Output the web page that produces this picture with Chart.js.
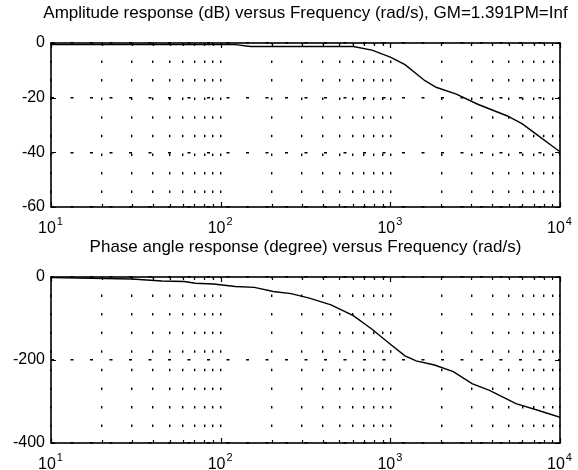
<!DOCTYPE html>
<html>
<head>
<meta charset="utf-8">
<script src="https://cdn.jsdelivr.net/npm/chart.js@4.4.0/dist/chart.umd.min.js"></script>
<style>
body { margin: 0; background: #fff; }
.plot { position: absolute; left: 0; width: 578px; height: 235px; }
</style>
</head>
<body>
<div class="plot" style="top:0"><canvas id="magCanvas" width="578" height="235"></canvas></div>
<div class="plot" style="top:235px"><canvas id="phaseCanvas" width="578" height="235"></canvas></div>
<script>
// amplitude response (dB)
var magFreq = [10, 122, 150, 605, 780, 1000, 1220, 1600, 1860, 2450, 3300, 4900, 6000, 7400, 10000];
var magDb = [-0.6, -0.6, -1.3, -1.3, -2.6, -5.2, -7.9, -13.8, -16.2, -18.7, -22.5, -26.7, -29.6, -33.8, -39.8];

// phase response (degree)
var phaseFreq = [10, 30, 45, 61, 71, 91, 122, 158, 204, 260, 333, 447, 605, 780, 1000, 1220, 1420, 1820, 2350, 3030, 3840, 5500, 7400, 10000];
var phaseDeg = [-1.6, -4.8, -9.5, -11, -15, -16.7, -23, -25, -35, -40, -51, -67, -93, -126, -162, -190, -202, -212, -228, -257, -273, -305, -321, -338];

var freqTicks = [10, 20, 30, 40, 50, 60, 70, 80, 90,
                 100, 200, 300, 400, 500, 600, 700, 800, 900,
                 1000, 2000, 3000, 4000, 5000, 6000, 7000, 8000, 9000, 10000];
var freqMajor = [10, 100, 1000, 10000];
var freqExp = ['1', '2', '3', '4'];
var magTicks = [0, -20, -40, -60];
var phaseTicks = [0, -200, -400];

var FONT = '"Liberation Sans", Arial, sans-serif';

var framePlugin = {
  id: 'frame',
  afterDraw: function(chart) {
    var ctx = chart.ctx;
    var a = chart.chartArea;
    var xs = chart.scales.x, ys = chart.scales.y;
    var o = chart.options.plugins.frame;
    ctx.save();
    ctx.strokeStyle = '#000';
    ctx.lineWidth = 1.6;
    ctx.strokeRect(a.left, a.top, a.right - a.left, a.bottom - a.top);

    // inward ticks
    ctx.lineWidth = 1.2;
    ctx.beginPath();
    freqTicks.forEach(function(v) {
      var x = Math.round(xs.getPixelForValue(v)) + 0.5;
      var len = freqMajor.indexOf(v) >= 0 ? 5 : 3;
      ctx.moveTo(x, a.bottom); ctx.lineTo(x, a.bottom - len);
      ctx.moveTo(x, a.top); ctx.lineTo(x, a.top + len);
    });
    o.yTicks.forEach(function(v) {
      var y = Math.round(ys.getPixelForValue(v)) + 0.5;
      ctx.moveTo(a.left, y); ctx.lineTo(a.left + 5, y);
      ctx.moveTo(a.right, y); ctx.lineTo(a.right - 5, y);
    });
    ctx.stroke();

    ctx.fillStyle = '#000';
    // y labels
    ctx.font = '16px ' + FONT;
    ctx.textAlign = 'right';
    ctx.textBaseline = 'middle';
    o.yTicks.forEach(function(v) {
      ctx.fillText(String(v), a.left - 6, ys.getPixelForValue(v));
    });

    // x labels 10^n
    ctx.textAlign = 'left';
    ctx.textBaseline = 'alphabetic';
    freqMajor.forEach(function(v, i) {
      ctx.font = '16px ' + FONT;
      var wb = ctx.measureText('10').width;
      ctx.font = '11px ' + FONT;
      var we = ctx.measureText(freqExp[i]).width;
      var x0 = xs.getPixelForValue(v) - (wb + we) / 2 - 1;
      ctx.font = '16px ' + FONT;
      ctx.fillText('10', x0, a.bottom + 26);
      ctx.font = '11px ' + FONT;
      ctx.fillText(freqExp[i], x0 + wb + 1, a.bottom + 18);
    });

    // title
    ctx.font = '17px ' + FONT;
    ctx.textAlign = 'center';
    ctx.textBaseline = 'middle';
    ctx.fillText(o.title, (a.left + a.right) / 2, a.top - 30);
    ctx.restore();
  }
};

function makeBode(id, xs, ys, yMin, yMax, yTicks, title, pad) {
  var pts = xs.map(function(f, i) { return {x: f, y: ys[i]}; });
  return new Chart(document.getElementById(id), {
    type: 'line',
    data: {
      datasets: [{
        data: pts,
        borderColor: '#000',
        borderWidth: 1.4,
        pointRadius: 0,
        tension: 0,
        fill: false
      }]
    },
    options: {
      responsive: false,
      animation: false,
      devicePixelRatio: 1,
      layout: { autoPadding: false, padding: pad },
      plugins: {
        legend: { display: false },
        tooltip: { enabled: false },
        frame: { yTicks: yTicks, title: title }
      },
      scales: {
        x: {
          type: 'logarithmic',
          min: 10, max: 10000,
          afterBuildTicks: function(s) { s.ticks = freqTicks.map(function(v) { return {value: v}; }); },
          ticks: { display: false },
          grid: { color: '#000', lineWidth: 1.4, drawTicks: false },
          border: { display: false, dash: [2.5, 16.1], dashOffset: 1.2 }
        },
        y: {
          min: yMin, max: yMax,
          afterBuildTicks: function(s) { s.ticks = yTicks.map(function(v) { return {value: v}; }); },
          ticks: { display: false },
          grid: { color: '#000', lineWidth: 1.4, drawTicks: false },
          border: { display: false, dash: [3, 16.5] }
        }
      }
    },
    plugins: [framePlugin]
  });
}

makeBode('magCanvas', magFreq, magDb, -60, 0, magTicks,
  'Amplitude response (dB) versus Frequency (rad/s), GM=1.391PM=Inf',
  { left: 51, right: 18, top: 43, bottom: 28 });
makeBode('phaseCanvas', phaseFreq, phaseDeg, -400, 0, phaseTicks,
  'Phase angle response (degree) versus Frequency (rad/s)',
  { left: 51, right: 18, top: 42, bottom: 27 });
</script>
</body>
</html>
